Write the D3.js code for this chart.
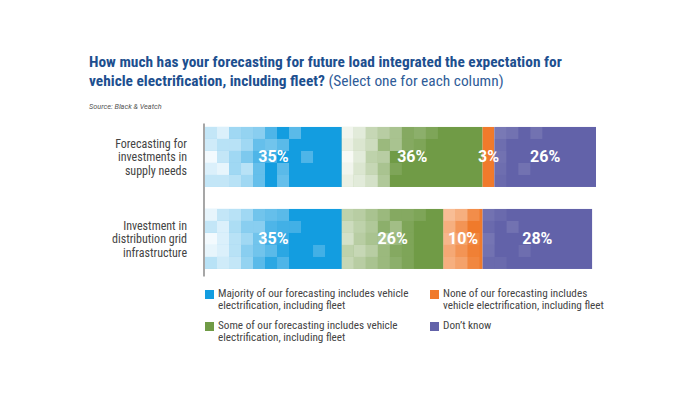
<!DOCTYPE html>
<html><head><meta charset="utf-8">
<script src="https://cdnjs.cloudflare.com/ajax/libs/d3/7.8.5/d3.min.js"></script>
<style>
body{margin:0;background:#fff;}
svg{display:block;}
</style></head>
<body><svg id="c" width="691" height="401"></svg>
<script>
// ---- data ----
const categories = [["Forecasting for","investments in","supply needs"],["Investment in","distribution grid","infrastructure"]];
const categoryKeys = ["supply","grid"];
const seriesNames = ["Majority","Some","None","Don't know"];
const majorityValues = [35, 35];
const someValues = [36, 26];
const noneValues = [3, 10];
const dontKnowValues = [26, 28];
const legendLabels = [
  ["Majority of our forecasting includes vehicle","electrification, including fleet"],
  ["Some of our forecasting includes vehicle","electrification, including fleet"],
  ["None of our forecasting includes","vehicle electrification, including fleet"],
  ["Don\u2019t know"]
];
const titleLine1 = "How much has your forecasting for future load integrated the expectation for";
const titleLine2Bold = "vehicle electrification, including fleet?";
const titleLine2Light = "(Select one for each column)";
const sourceText = "Source: Black & Veatch";
const colors = ["#139de0","#709b46","#f07a2b","#6262a9"];

// decorative mosaic (white overlay opacity per column x row) for each segment
const mosaic = {
  "0-0":[[.75,.8,.95,.85,.75],[.85,.7,.75,.9,.75],[.6,.7,.6,.6,.7],[.55,.6,.45,.7,.6],[.5,.35,.25,.35,.35],[.25,.4,.2,0,0],[0,.3,0,.3,.35],[.3,0,0,0,0],[0,0,.25,0,0]],
  "0-1":[[.9,.85,.95,.9,.85],[.8,.75,.8,.75,.8],[.6,.65,.55,.6,.7],[.5,.3,.5,.4,.45],[.4,.4,0,.1,0],[.15,.15,0,0,0],[.2,.1,0,0,0],[.1,0,0,0,0]],
  "0-3":[[.15,.08,.1,.08,.05],[.1,0,0,0,0],[0,0,0,.1,0],[.1,0,0,0,0]],
  "1-0":[[.9,.75,.95,.9,.7],[.75,.85,.85,.85,.8],[.7,.65,.7,.7,.75],[.6,.5,.6,.5,.55],[.4,.5,.4,.4,.3],[.35,.25,.2,.3,.1],[.3,.2,.15,.1,.25],[0,.2,0,0,0],[0,0,0,0,0],[0,0,0,.2,0]],
  "1-1":[[.55,.65,.7,.55,.6],[.5,.55,.5,.6,.5],[.4,.45,.4,.5,.4],[.3,.2,.4,.3,.3],[.15,.35,.3,.15,.2],[.15,.1,.1,.1,.1],[.1,0,0,0,0]],
  "1-2":[[.5,.4,.45,.35,.4],[.4,.2,.3,.2,.3],[.15,0,.1,.05,.1]],
  "1-3":[[.1,.05,.12,.1,.05],[.05,0,0,0,.05],[0,.1,0,0,0],[0,0,0,.08,0]]
};

const svg = d3.select("#c");
const x = d3.scaleLinear().domain([0,100]).range([205,596]);
const y = d3.scaleBand().domain(categoryKeys).range([123,276]).paddingInner(0.268).paddingOuter(0.067).align(0.36);

const tf = "Roboto, 'Liberation Sans', sans-serif";
const nf = "'Liberation Sans Narrow', 'Roboto Condensed', 'Liberation Sans', sans-serif";

// title
svg.append("text").attr("x",89).attr("y",67).attr("fill","#1d4f8f")
  .style("font-family",nf).style("font-size","15.4px").style("font-weight","700").text(titleLine1);
const t2 = svg.append("text").attr("x",89).attr("y",85.5)
  .style("font-family",nf).style("font-size","15.4px");
t2.append("tspan").attr("fill","#1d4f8f").style("font-weight","700").text(titleLine2Bold);
t2.append("tspan").attr("fill","#2f5c98").style("font-weight","400").text(" " + titleLine2Light);
svg.append("text").attr("x",89).attr("y",109).attr("fill","#555")
  .style("font-family","Roboto, sans-serif").style("font-size","7.3px").style("font-style","italic").text(sourceText);

// stacked data
const table = categoryKeys.map((k,i)=>({key:k, values:[majorityValues[i],someValues[i],noneValues[i],dontKnowValues[i]]}));
const cell = y.bandwidth()/5;

table.forEach((row,bi)=>{
  let acc = 0;
  const g = svg.append("g");
  row.values.forEach((v,si)=>{
    const x0 = x(acc), x1 = x(acc+v);
    acc += v;
    g.append("rect").attr("x",x0).attr("y",y(row.key)).attr("width",x1-x0).attr("height",y.bandwidth()).attr("fill",colors[si]);
    const m = mosaic[bi+"-"+si];
    if(m){
      m.forEach((col,c)=>col.forEach((a,r)=>{
        if(a<=0) return;
        const cx = x0 + c*cell;
        if(cx >= x1) return;
        g.append("rect").attr("x",cx).attr("y",y(row.key)+r*cell)
          .attr("width",Math.min(cell,x1-cx)).attr("height",cell).attr("fill","#fff").attr("opacity",a);
      }));
    }
  });
  acc = 0;
  row.values.forEach((v,si)=>{
    const x0 = x(acc), x1 = x(acc+v);
    acc += v;
    g.append("text").attr("x",(x0+x1)/2).attr("y",y(row.key)+y.bandwidth()/2+1)
      .attr("text-anchor","middle").attr("dominant-baseline","middle").attr("fill","#fff")
      .style("font-family",tf).style("font-size","16px").style("font-weight","700")
      .text(v+"%");
  });
});

// axis line
const ax = svg.append("g").attr("transform","translate(203.5,0)")
  .call(d3.axisLeft(y).tickSize(0).tickSizeOuter(0).tickFormat(""));
ax.select(".domain").attr("stroke","#777").attr("stroke-width",1.3);

// category labels
categoryKeys.forEach((k,i)=>{
  const t = svg.append("text").attr("text-anchor","end").attr("fill","#444")
    .style("font-family",nf).style("font-size","12px");
  const lines = categories[i];
  const cy = y(k)+y.bandwidth()/2;
  lines.forEach((l,j)=>{
    t.append("tspan").attr("x",187).attr("y",cy + (j-(lines.length-1)/2)*13.5 + 4.3).text(l);
  });
});

// legend
const legPos = [[205,290],[205,322],[430,290],[430,322]];
legendLabels.forEach((lines,i)=>{
  const g = svg.append("g").attr("transform",`translate(${legPos[i][0]},${legPos[i][1]})`);
  g.append("rect").attr("x",0).attr("y",0).attr("width",9).attr("height",9).attr("fill",colors[i]);
  const t = g.append("text").attr("fill","#444")
    .style("font-family",nf).style("font-size","11.2px");
  lines.forEach((l,j)=>t.append("tspan").attr("x",13).attr("y",6.5+j*12.6).text(l));
});
</script></body></html>
